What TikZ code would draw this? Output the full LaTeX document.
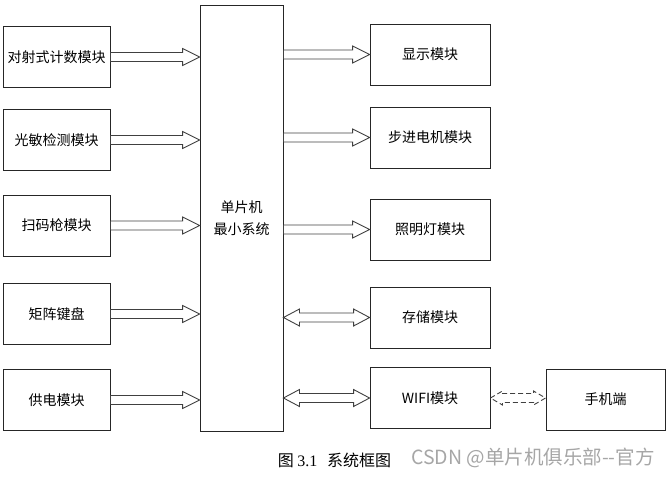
\documentclass[tikz,border=0pt]{standalone}
\usepackage{fontspec}
\setmainfont{Noto Sans CJK SC}
\newfontfamily\capfont{Liberation Serif}
\usetikzlibrary{calc}
\newcommand\blkarrow[2]{\draw[blk] let \p1=(#1), \p2=(#2) in
  (\x1,\y1+4.5pt) -- (\x2-17pt,\y1+4.5pt) -- (\x2-17pt,\y1+8.5pt) -- (\x2,\y1)
  -- (\x2-17pt,\y1-8.5pt) -- (\x2-17pt,\y1-4.5pt) -- (\x1,\y1-4.5pt) -- cycle;}
\newcommand\dblarrow[5][]{\draw[blk,#1] let \p1=(#2), \p2=(#3) in
  (\x1,\y1) -- (\x1+#4,\y1+#5) -- (\x1+#4,\y1+4.5pt) -- (\x2-#4,\y1+4.5pt) -- (\x2-#4,\y1+#5) -- (\x2,\y1)
  -- (\x2-#4,\y1-#5) -- (\x2-#4,\y1-4.5pt) -- (\x1+#4,\y1-4.5pt) -- (\x1+#4,\y1-#5) -- cycle;}
\begin{document}
\begin{tikzpicture}[x=1pt,y=-1pt,
  box/.style={draw=black!85, line width=0.9pt, minimum width=107pt, minimum height=61pt,
    inner sep=0pt, font=\fontsize{14}{22}\selectfont},
  rbox/.style={box, minimum width=120pt},
  blk/.style={draw=black!75, line width=0.9pt, line join=miter}]
\useasboundingbox (0,0) rectangle (671,476);
% left column
\node[box] (l1) at (56.5,57) {对射式计数模块};
\node[box] (l2) at (56.5,140) {光敏检测模块};
\node[box] (l3) at (56.5,225.5) {扫码枪模块};
\node[box] (l4) at (56.5,314) {矩阵键盘};
\node[box] (l5) at (56.5,400) {供电模块};
% MCU
\node[box, minimum width=83pt, minimum height=426pt, align=center] (mcu) at (241.5,218) {单片机\\最小系统};
% right column
\node[rbox] (r1) at (430,54.5) {显示模块};
\node[rbox] (r2) at (430,137.5) {步进电机模块};
\node[rbox] (r3) at (430,229.5) {照明灯模块};
\node[rbox] (r4) at (430,317.5) {存储模块};
\node[rbox] (r5) at (430,398) {WIFI模块};
\node[box, minimum width=119pt] (ph) at (605.5,399.5) {手机端};
% arrows
\blkarrow{l1.east}{mcu.west |- l1.east}
\blkarrow{l2.east}{mcu.west |- l2.east}
\blkarrow{l3.east}{mcu.west |- l3.east}
\blkarrow{l4.east}{mcu.west |- l4.east}
\blkarrow{l5.east}{mcu.west |- l5.east}
\blkarrow{mcu.east |- r1.west}{r1.west}
\blkarrow{mcu.east |- r2.west}{r2.west}
\blkarrow{mcu.east |- r3.west}{r3.west}
\dblarrow{mcu.east |- r4.west}{r4.west}{16pt}{8.5pt}
\dblarrow{mcu.east |- r5.west}{r5.west}{16pt}{8.5pt}
\dblarrow[dashed, dash pattern=on 5pt off 3pt]{r5.east}{ph.west |- r5.east}{12pt}{7pt}
% caption and watermark
\node (cap) at (334.5,460) {\fontsize{16}{18}\selectfont 图 {\capfont 3.1}\hspace{0.6em}系统框图};
\node[text=black!35] (wm) at (533,458) {\fontsize{19.5}{22}\selectfont CSDN @单片机俱乐部-{}-官方};
\end{tikzpicture}
\end{document}
